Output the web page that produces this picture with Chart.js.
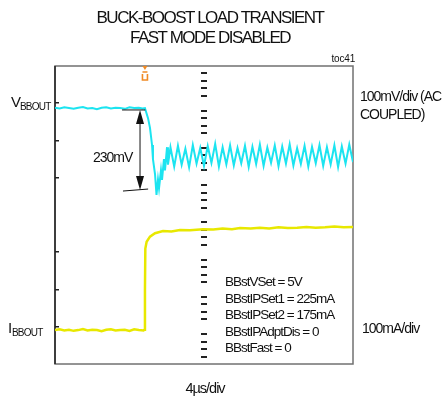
<!DOCTYPE html>
<html lang="en">
<head>
<meta charset="UTF-8">
<title>Buck-Boost Load Transient</title>
<script src="https://cdn.jsdelivr.net/npm/chart.js@4/dist/chart.umd.min.js"></script>
<style>
    body { margin: 0; background: #fff; }
    #wrap { width: 443px; height: 397px; }
</style>
</head>
<body>
<div id="wrap"><canvas id="scope" width="443" height="397"></canvas></div>
<script>
// time in µs, 4µs/div, trigger near -6.3µs
var vTime = [-16, -15.5, -15, -14.5, -14, -13.5, -13, -12.5, -12, -11.5, -11, -10.5, -10, -9.5, -9, -8.5, -8, -7.5, -7, -6.6,
    -6.34, -6.01, -5.8, -5.58, -5.48, -5.26, -5.1, -4.94, -4.83, -4.62, -4.51, -4.3, -4.19, -3.97, -3.87,
    -3.6, -3.2, -2.8, -2.4, -2, -1.6, -1.2, -0.8, -0.4, 0,
    0.4, 0.8, 1.2, 1.6, 2, 2.4, 2.8, 3.2, 3.6, 4,
    4.4, 4.8, 5.2, 5.6, 6, 6.4, 6.8, 7.2, 7.6, 8,
    8.4, 8.8, 9.2, 9.6, 10, 10.4, 10.8, 11.2, 11.6, 12,
    12.4, 12.8, 13.2, 13.6, 14, 14.4, 14.8, 15.2, 15.6, 16];
// VBBOUT, mV (AC coupled, 100mV/div)
var vValues = [-12, -14, -11, -13, -15, -12, -10, -14, -13, -16, -12, -11, -14, -12, -13, -15, -11, -13, -12, -14,
    -13, -40, -66, -112, -150, -190, -246, -205, -228, -180, -206, -150, -180, -118, -165,
    -118, -170, -114, -165, -122, -172, -112, -162, -120, -168,
    -115, -160, -109, -170, -118, -164, -113, -167, -120, -161,
    -114, -171, -117, -163, -111, -168, -119, -160, -113, -169,
    -116, -162, -110, -167, -121, -163, -114, -170, -117, -161,
    -112, -168, -118, -164, -113, -171, -116, -162, -111, -158];

var iTime = [-16, -15.5, -15, -14.5, -14, -13.5, -13, -12.5, -12, -11.5, -11, -10.5, -10, -9.5, -9, -8.5, -8, -7.5, -7, -6.5,
    -6.4, -6.34, -6.3, -6.16, -5.8, -5.26, -4.4, -3.5, -2.58, -1.5, -0.11, 1, 2, 3, 3.87,
    5, 6, 7, 8, 9, 10, 11, 12, 13, 14, 15, 16];
// IBBOUT, mA (100mA/div)
var iValues = [-9, -7, -10, -8, -11, -9, -6, -10, -8, -9, -12, -8, -7, -10, -9, -8, -11, -7, -9, -10,
    -8, 100, 210, 228, 242, 251, 257, 256, 260, 259, 262, 261, 264, 262, 265,
    264, 266, 264, 267, 265, 266, 268, 266, 267, 269, 267, 268];

var titleLines = ['BUCK-BOOST LOAD TRANSIENT', 'FAST MODE DISABLED'];
var settings = ['BBstVSet = 5V', 'BBstIPSet1 = 225mA', 'BBstIPSet2 = 175mA', 'BBstIPAdptDis = 0', 'BBstFast = 0'];
var trigTime = -6.34;
var dropLabel = '230mV';

var FONT = '"Liberation Sans", Arial, Helvetica, sans-serif';

function pts(xs, ys) {
    return xs.map(function (x, i) { return { x: x, y: ys[i] }; });
}

function text(ctx, s, x, y, size, spacing, align) {
    ctx.font = size + 'px ' + FONT;
    ctx.letterSpacing = spacing + 'px';
    ctx.textAlign = align || 'left';
    ctx.textBaseline = 'alphabetic';
    ctx.fillText(s, x, y);
}

var scopePlugin = {
    id: 'scope',
    beforeDatasetsDraw: function (chart) {
        var ctx = chart.ctx, a = chart.chartArea;
        var xs = chart.scales.x, ys = chart.scales.yV;
        ctx.save();
        // frame
        ctx.strokeStyle = '#707070';
        ctx.lineWidth = 1.5;
        ctx.strokeRect(a.left, a.top, a.right - a.left, a.bottom - a.top);
        ctx.strokeStyle = '#222';
        ctx.beginPath();
        ctx.moveTo(a.left, a.top);
        ctx.lineTo(a.left, a.bottom);
        ctx.stroke();
        // centre graticule: minor dashes, none on the majors
        var cx = xs.getPixelForValue(0);
        ctx.fillStyle = '#222';
        for (var v = 100; v >= -700; v -= 20) {
            if ((100 - v) % 100 === 0) continue;
            var py = ys.getPixelForValue(v);
            ctx.fillRect(cx - 3, Math.round(py) - 1, 6, 2);
        }
        // major ticks on the left edge (not at centre)
        ctx.fillStyle = '#222';
        for (var m = 0; m >= -600; m -= 100) {
            if (m === -300) continue;
            var ty = ys.getPixelForValue(m);
            ctx.fillRect(a.left, Math.round(ty) - 1, 4, 1.5);
        }
        ctx.restore();
    },
    afterDraw: function (chart) {
        var ctx = chart.ctx, a = chart.chartArea;
        var xs = chart.scales.x, ys = chart.scales.yV;
        ctx.save();
        ctx.fillStyle = '#111';
        // title
        text(ctx, titleLines[0], 210, 23, 17, -1.5, 'center');
        text(ctx, titleLines[1], 210, 43, 17, -1.5, 'center');
        text(ctx, 'toc41', 355, 62, 10, -0.2, 'right');
        // channel labels
        text(ctx, 'V', 11, 107, 15, -1);
        text(ctx, 'BBOUT', 20, 110, 10, -0.8);
        text(ctx, 'I', 8, 333, 15, -1);
        text(ctx, 'BBOUT', 12, 336, 10, -0.8);
        text(ctx, '100mV/div (AC', 360, 101, 14, -1);
        text(ctx, 'COUPLED)', 360, 119, 14, -1);
        text(ctx, '100mA/div', 362, 333, 14, -1);
        text(ctx, '4\u00b5s/div', 205, 393, 14.5, -1, 'center');
        for (var k = 0; k < settings.length; k++) {
            text(ctx, settings[k], 225, 286 + k * 16.5, 13.5, -1);
        }
        // 230mV drop marker
        var ax = xs.getPixelForValue(-6.87);
        var yTop = ys.getPixelForValue(-18), yBot = ys.getPixelForValue(-233);
        ctx.strokeStyle = '#111';
        ctx.lineWidth = 1;
        ctx.beginPath();
        ctx.moveTo(xs.getPixelForValue(-8.8), yTop);
        ctx.lineTo(xs.getPixelForValue(-6.3), yTop);
        ctx.moveTo(xs.getPixelForValue(-8.7), yBot + 1);
        ctx.lineTo(xs.getPixelForValue(-6.0), yBot - 1);
        ctx.moveTo(ax, yTop + 10);
        ctx.lineTo(ax, yBot - 10);
        ctx.stroke();
        ctx.beginPath();
        ctx.moveTo(ax, yTop);
        ctx.lineTo(ax - 4, yTop + 14);
        ctx.lineTo(ax + 4, yTop + 14);
        ctx.closePath();
        ctx.moveTo(ax, yBot);
        ctx.lineTo(ax - 4, yBot - 14);
        ctx.lineTo(ax + 4, yBot - 14);
        ctx.closePath();
        ctx.fill();
        text(ctx, dropLabel, 93, 162, 14, -1);
        // trigger marker
        var tx = xs.getPixelForValue(trigTime);
        ctx.fillStyle = '#f08a24';
        ctx.strokeStyle = '#f08a24';
        ctx.beginPath();
        ctx.moveTo(tx - 2.5, a.top);
        ctx.lineTo(tx + 2.5, a.top);
        ctx.lineTo(tx, a.top + 4);
        ctx.closePath();
        ctx.fill();
        ctx.lineWidth = 1.6;
        ctx.beginPath();
        ctx.moveTo(tx - 2.5, a.top + 6);
        ctx.lineTo(tx + 2.5, a.top + 6);
        ctx.moveTo(tx - 2.5, a.top + 8);
        ctx.lineTo(tx - 2.5, a.top + 14);
        ctx.lineTo(tx + 2.5, a.top + 14);
        ctx.lineTo(tx + 2.5, a.top + 8);
        ctx.stroke();
        ctx.restore();
    }
};

new Chart(document.getElementById('scope'), {
    type: 'line',
    data: {
        datasets: [
            {
                label: 'VBBOUT',
                data: pts(vTime, vValues),
                yAxisID: 'yV',
                borderColor: '#1ce4f0',
                borderWidth: 2,
                pointRadius: 0,
                tension: 0
            },
            {
                label: 'IBBOUT',
                data: pts(iTime, iValues),
                yAxisID: 'yI',
                borderColor: '#e8e800',
                borderWidth: 2.5,
                pointRadius: 0,
                tension: 0
            }
        ]
    },
    options: {
        responsive: false,
        devicePixelRatio: 1,
        animation: false,
        layout: { padding: { left: 55, top: 66, right: 90, bottom: 33 } },
        plugins: {
            legend: { display: false },
            tooltip: { enabled: false },
            title: { display: false }
        },
        scales: {
            x: { type: 'linear', min: -16, max: 16, display: false },
            yV: { type: 'linear', min: -700, max: 100, display: false },
            yI: { type: 'linear', min: -100, max: 700, display: false }
        }
    },
    plugins: [scopePlugin]
});
</script>
</body>
</html>
